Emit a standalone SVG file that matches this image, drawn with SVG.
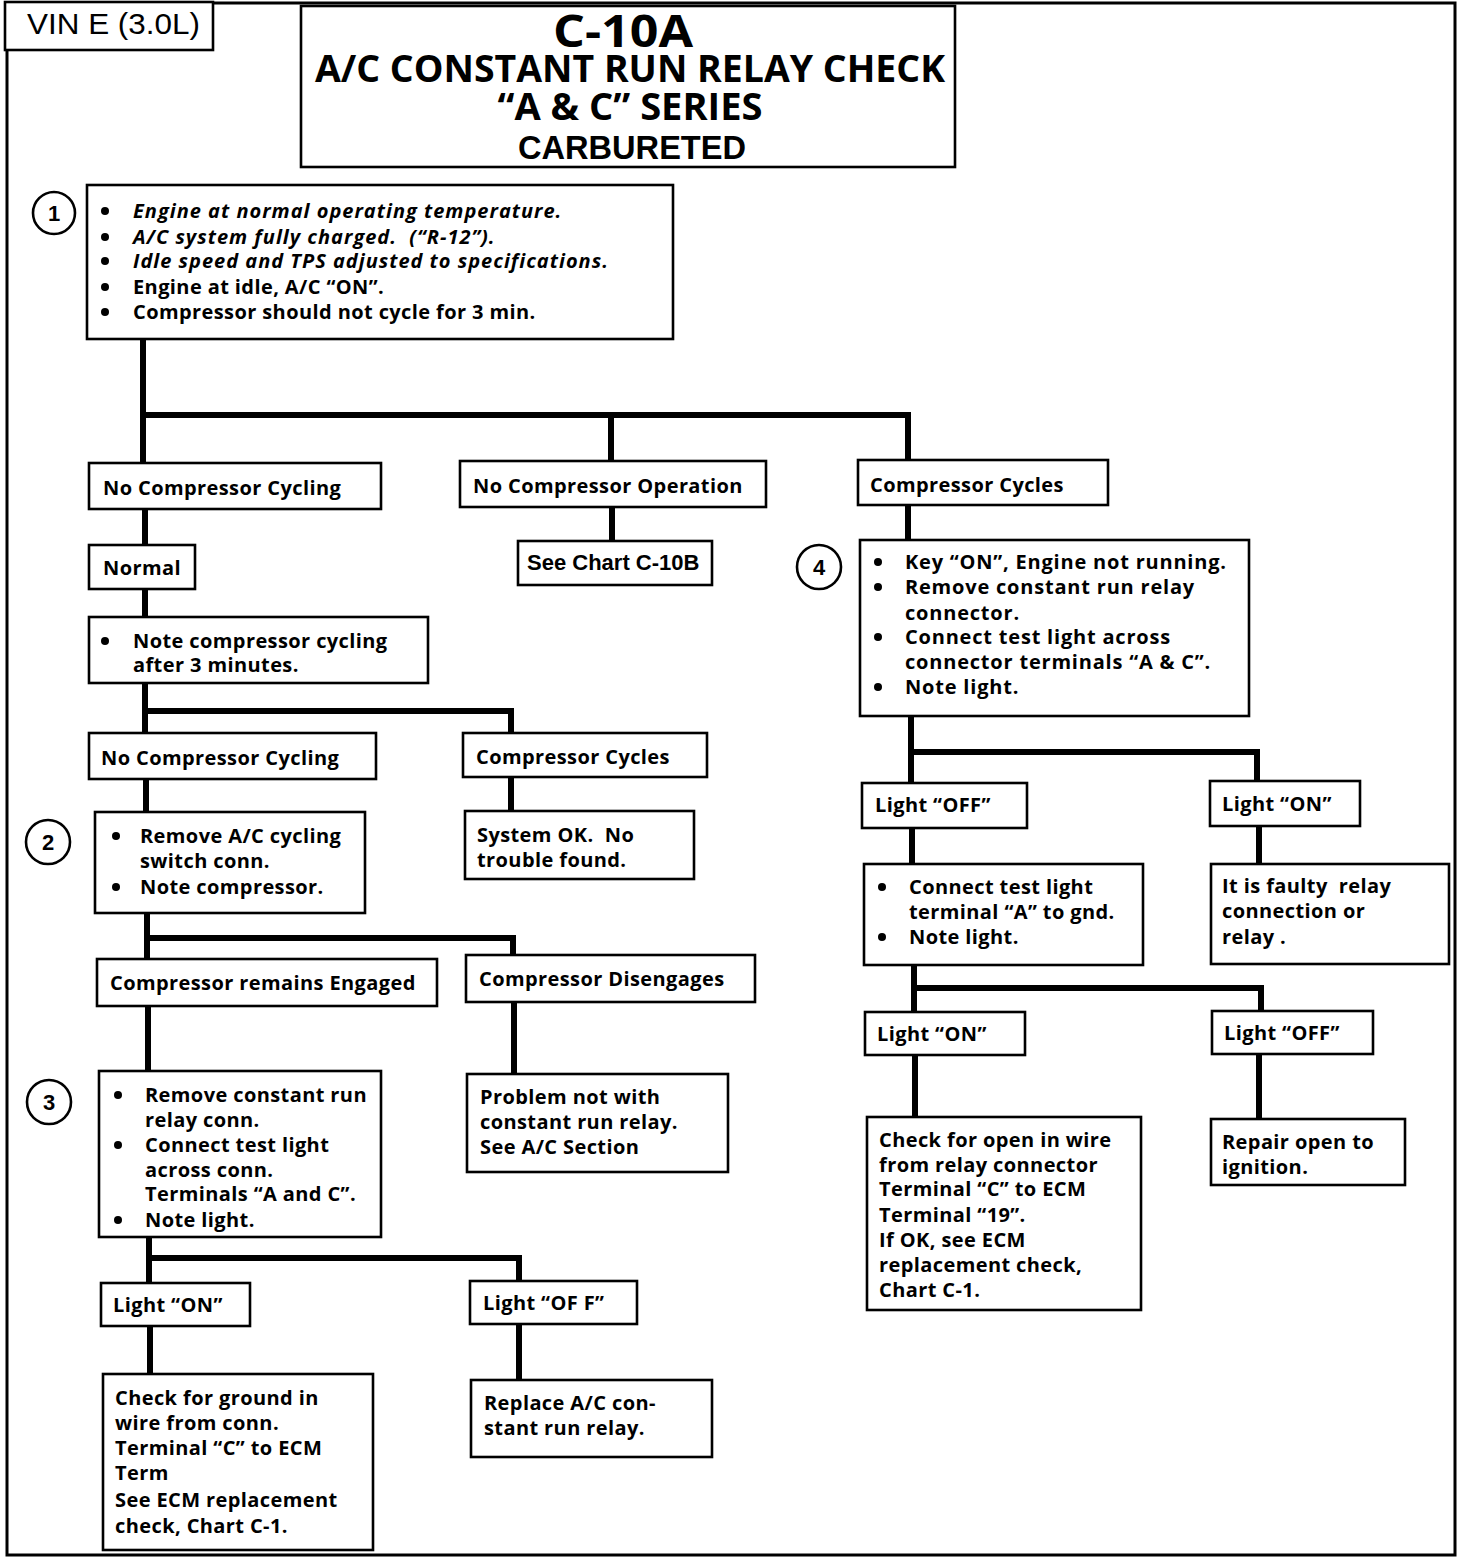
<svg xmlns="http://www.w3.org/2000/svg" width="1472" height="1558" viewBox="0 0 1472 1558">
<style>
.b{fill:#fff;stroke:#000;stroke-width:2.6}
.c{fill:none;stroke:#000;stroke-width:6;stroke-linecap:square}
.t{font-family:"Open Sans","Noto Sans",sans-serif;font-weight:bold;font-size:20px;letter-spacing:0.4px;fill:#000}
.i{font-style:italic;letter-spacing:1px}
.w{letter-spacing:0.8px}
.a{font-family:"Liberation Sans",Arial,sans-serif;font-weight:bold;font-size:22px;fill:#000}
.n{font-family:"Liberation Sans",Arial,sans-serif;font-weight:bold;font-size:22px;fill:#000;text-anchor:middle}
.o{fill:#fff;stroke:#000;stroke-width:2.6}
.d{fill:#000}
.h{font-family:"Open Sans","Noto Sans",sans-serif;font-weight:bold;fill:#000;text-anchor:middle}
</style>
<rect x="0" y="0" width="1472" height="1558" fill="#fff"/>
<rect x="7" y="3" width="1448" height="1552" fill="none" stroke="#000" stroke-width="3"/>
<g id="vin"><rect x="5" y="2" width="208" height="48" class="b" stroke-width="3"/><text x="27" y="34" font-family="Liberation Sans,Arial,sans-serif" font-size="30" fill="#000" textLength="173" lengthAdjust="spacingAndGlyphs">VIN E (3.0L)</text></g>
<g id="title"><rect x="301" y="6" width="654" height="161" class="b" stroke-width="3"/>
<text x="623" y="47" class="h" font-size="44" textLength="140" lengthAdjust="spacingAndGlyphs">C-10A</text>
<text x="630" y="82" class="h" font-size="38" textLength="630" lengthAdjust="spacingAndGlyphs">A/C CONSTANT RUN RELAY CHECK</text>
<text x="630" y="120" class="h" font-size="37" textLength="265" lengthAdjust="spacingAndGlyphs">“A &amp; C” SERIES</text>
<text x="632" y="159" text-anchor="middle" font-family="Liberation Sans,Arial,sans-serif" font-weight="bold" font-size="33" fill="#000" textLength="228" lengthAdjust="spacingAndGlyphs">CARBURETED</text></g>
<g id="connectors">
<path class="c" d="M143 339V462M143 415H908V460M611 415V461"/>
<path class="c" d="M145 509V545M612 507V541M145 589V617M145 683V733M145 711H511V733M146 779V812M511 777V811"/>
<path class="c" d="M147 913V959M147 938H513V955M148 1006V1071M514 1002V1074"/>
<path class="c" d="M149 1237V1283M149 1258H519V1281M150 1326V1374M519 1324V1380"/>
<path class="c" d="M908 505V540M911 716V783M911 752H1257V781M912 828V864M1259 826V864"/>
<path class="c" d="M914 965V1012M914 988H1261V1011M915 1055V1117M1259 1054V1119"/>
</g>
<g id="n1"><circle cx="54" cy="213" r="21" class="o"/><text x="54" y="221" class="n" font-weight="normal">1</text>
<rect x="87" y="185" width="586" height="154" class="b"/>
<circle cx="105" cy="211" r="4" class="d"/><circle cx="105" cy="237" r="4" class="d"/><circle cx="105" cy="261" r="4" class="d"/><circle cx="105" cy="287" r="4" class="d"/><circle cx="105" cy="312" r="4" class="d"/>
<g class="t">
<text x="133" y="218" class="i">Engine at normal operating temperature.</text>
<text x="133" y="244" class="i" xml:space="preserve">A/C system fully charged.  (“R-12”).</text>
<text x="133" y="268" class="i">Idle speed and TPS adjusted to specifications.</text>
<text x="133" y="294">Engine at idle, A/C “ON”.</text>
<text x="133" y="319">Compressor should not cycle for 3 min.</text></g></g>
<g id="n2"><rect x="89" y="463" width="292" height="46" class="b"/><text x="103" y="495" class="t">No Compressor Cycling</text></g>
<g id="n3"><rect x="460" y="461" width="306" height="46" class="b"/><text x="473" y="493" class="t">No Compressor Operation</text></g>
<g id="n4"><rect x="858" y="460" width="250" height="45" class="b"/><text x="870" y="492" class="t">Compressor Cycles</text></g>
<g id="n5"><rect x="89" y="545" width="106" height="44" class="b"/><text x="103" y="575" class="t">Normal</text></g>
<g id="n6"><rect x="518" y="541" width="194" height="44" class="b"/><text x="527" y="570" class="a">See Chart C-10B</text></g>
<g id="n7"><rect x="89" y="617" width="339" height="66" class="b"/><circle cx="105" cy="641" r="4" class="d"/><g class="t"><text x="133" y="648">Note compressor cycling</text><text x="133" y="672">after 3 minutes.</text></g></g>
<g id="n8"><rect x="89" y="733" width="287" height="46" class="b"/><text x="101" y="765" class="t">No Compressor Cycling</text></g>
<g id="n9"><rect x="463" y="733" width="244" height="44" class="b"/><text x="476" y="764" class="t">Compressor Cycles</text></g>
<g id="n10"><circle cx="48" cy="842" r="22" class="o"/><text x="48" y="850" class="n">2</text>
<rect x="95" y="812" width="270" height="101" class="b"/><circle cx="116" cy="836" r="4" class="d"/><circle cx="116" cy="887" r="4" class="d"/><g class="t"><text x="140" y="843">Remove A/C cycling</text><text x="140" y="868">switch conn.</text><text x="140" y="894">Note compressor.</text></g></g>
<g id="n11"><rect x="465" y="811" width="229" height="68" class="b"/><g class="t"><text x="477" y="842" xml:space="preserve">System OK.  No</text><text x="477" y="867">trouble found.</text></g></g>
<g id="n12"><rect x="97" y="959" width="340" height="47" class="b"/><text x="110" y="990" class="t">Compressor remains Engaged</text></g>
<g id="n13"><rect x="466" y="955" width="289" height="47" class="b"/><text x="479" y="986" class="t">Compressor Disengages</text></g>
<g id="n14"><circle cx="49" cy="1102" r="22" class="o"/><text x="49" y="1110" class="n">3</text>
<rect x="99" y="1071" width="282" height="166" class="b"/><circle cx="118" cy="1095" r="4" class="d"/><circle cx="118" cy="1145" r="4" class="d"/><circle cx="118" cy="1220" r="4" class="d"/><g class="t"><text x="145" y="1102">Remove constant run</text><text x="145" y="1127">relay conn.</text><text x="145" y="1152">Connect test light</text><text x="145" y="1177">across conn.</text><text x="145" y="1201">Terminals “A and C”.</text><text x="145" y="1227">Note light.</text></g></g>
<g id="n15"><rect x="467" y="1074" width="261" height="98" class="b"/><g class="t"><text x="480" y="1104">Problem not with</text><text x="480" y="1129">constant run relay.</text><text x="480" y="1154">See A/C Section</text></g></g>
<g id="n16"><rect x="101" y="1283" width="149" height="43" class="b"/><text x="113" y="1312" class="t">Light “ON”</text></g>
<g id="n17"><rect x="470" y="1281" width="167" height="43" class="b"/><text x="483" y="1310" class="t">Light “OF F”</text></g>
<g id="n18"><rect x="103" y="1374" width="270" height="176" class="b"/><g class="t"><text x="115" y="1405">Check for ground in</text><text x="115" y="1430">wire from conn.</text><text x="115" y="1455">Terminal “C” to ECM</text><text x="115" y="1480">Term</text><text x="115" y="1507">See ECM replacement</text><text x="115" y="1533">check, Chart C-1.</text></g></g>
<g id="n19"><rect x="471" y="1380" width="241" height="77" class="b"/><g class="t"><text x="484" y="1410">Replace A/C con-</text><text x="484" y="1435">stant run relay.</text></g></g>
<g id="n20"><circle cx="819" cy="567" r="22" class="o"/><text x="819" y="575" class="n">4</text>
<rect x="860" y="540" width="389" height="176" class="b"/><circle cx="878" cy="562" r="4" class="d"/><circle cx="878" cy="587" r="4" class="d"/><circle cx="878" cy="637" r="4" class="d"/><circle cx="878" cy="687" r="4" class="d"/><g class="t w"><text x="905" y="569">Key “ON”, Engine not running.</text><text x="905" y="594">Remove constant run relay</text><text x="905" y="620">connector.</text><text x="905" y="644">Connect test light across</text><text x="905" y="669">connector terminals “A &amp; C”.</text><text x="905" y="694">Note light.</text></g></g>
<g id="n21"><rect x="862" y="783" width="165" height="45" class="b"/><text x="875" y="812" class="t">Light “OFF”</text></g>
<g id="n22"><rect x="1210" y="781" width="150" height="45" class="b"/><text x="1222" y="811" class="t">Light “ON”</text></g>
<g id="n23"><rect x="864" y="864" width="279" height="101" class="b"/><circle cx="882" cy="887" r="4" class="d"/><circle cx="882" cy="937" r="4" class="d"/><g class="t"><text x="909" y="894">Connect test light</text><text x="909" y="919">terminal “A” to gnd.</text><text x="909" y="944">Note light.</text></g></g>
<g id="n24"><rect x="1211" y="864" width="238" height="100" class="b"/><g class="t"><text x="1222" y="893" xml:space="preserve">It is faulty  relay</text><text x="1222" y="918">connection or</text><text x="1222" y="944">relay .</text></g></g>
<g id="n25"><rect x="865" y="1012" width="160" height="43" class="b"/><text x="877" y="1041" class="t">Light “ON”</text></g>
<g id="n26"><rect x="1212" y="1011" width="161" height="43" class="b"/><text x="1224" y="1040" class="t">Light “OFF”</text></g>
<g id="n27"><rect x="867" y="1117" width="274" height="193" class="b"/><g class="t"><text x="879" y="1147">Check for open in wire</text><text x="879" y="1172">from relay connector</text><text x="879" y="1196">Terminal “C” to ECM</text><text x="879" y="1222">Terminal “19”.</text><text x="879" y="1247">If OK, see ECM</text><text x="879" y="1272">replacement check,</text><text x="879" y="1297">Chart C-1.</text></g></g>
<g id="n28"><rect x="1211" y="1119" width="194" height="66" class="b"/><g class="t"><text x="1222" y="1149">Repair open to</text><text x="1222" y="1174">ignition.</text></g></g>
</svg>
